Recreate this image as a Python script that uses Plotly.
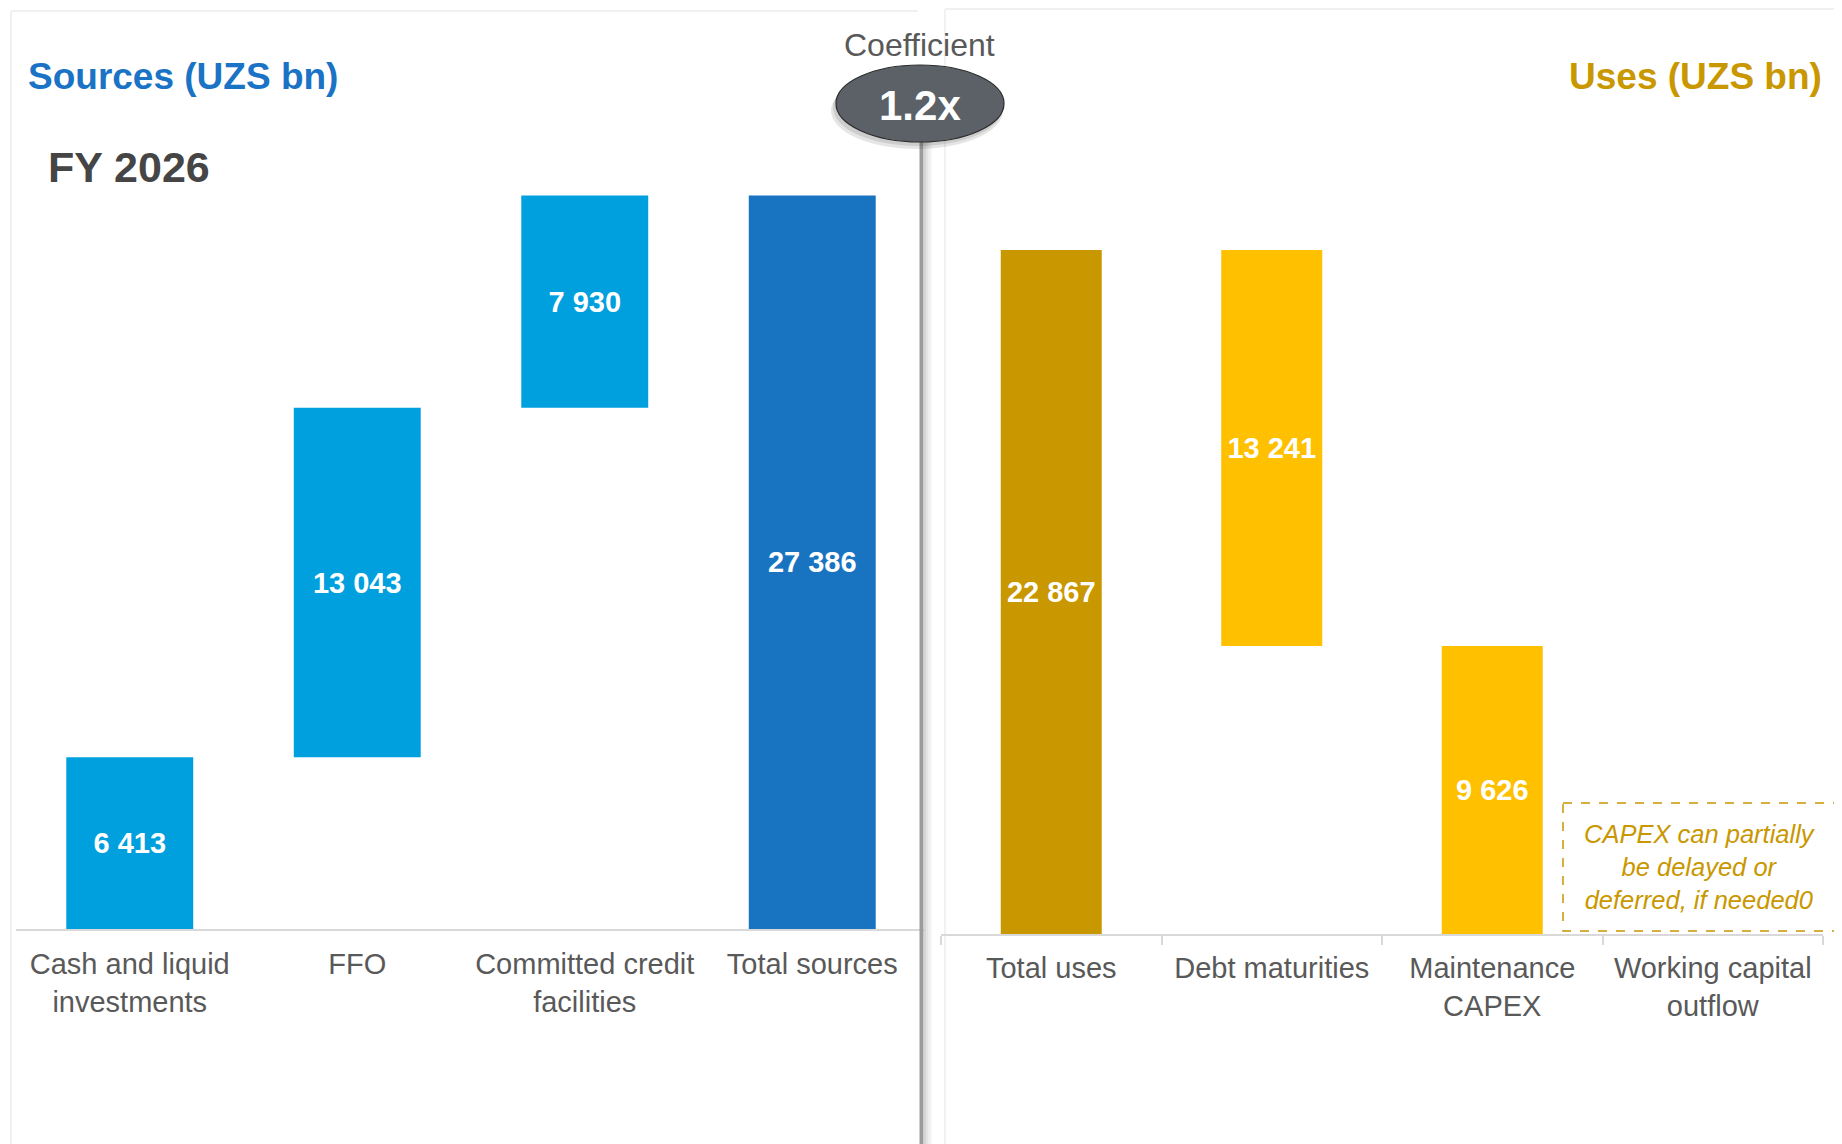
import plotly.graph_objects as go

# page body has an 8px margin; figure fills the rest of the 1842x1144 window
OFF = 8
W, H = 1842 - OFF, 1144 - OFF

# ---------------- data ----------------
src_cats = ["Cash and liquid<br>investments", "FFO", "Committed credit<br>facilities", "Total sources"]
src_vals = [6413, 13043, 7930, 27386]
src_is_total = [False, False, False, True]

use_cats = ["Total uses", "Debt maturities", "Maintenance<br>CAPEX", "Working capital<br>outflow"]
use_vals = [22867, 13241, 9626, 0]
use_is_total = [True, False, False, False]

src_title = "Sources (UZS bn)"
use_title = "Uses (UZS bn)"
period_label = "FY 2026"
coef_title = "Coefficient"
note_text = "CAPEX can partially<br>be delayed or<br>deferred, if needed0"

# ---------------- colours ----------------
C_SRC = "#00a0df"
C_SRC_TOT = "#1874c1"
C_USE = "#ffc000"
C_USE_TOT = "#c99700"
C_TXT = "#595959"
C_AXIS = "#d9d9d9"


def px(x):
    return (x - OFF) / W


def py(y):
    return 1 - (y - OFF) / H


def fmt(v):
    return f"{v:,}".replace(",", " ") if v else ""


# waterfall bases
src_base, run = [], 0
for v, t in zip(src_vals, src_is_total):
    if t:
        src_base.append(0)
    else:
        src_base.append(run)
        run += v

use_base, run = [], 0
for v, t in zip(use_vals, use_is_total):
    if t:
        use_base.append(0)
        run = v
    else:
        run -= v
        use_base.append(run)

coef = src_vals[-1] / use_vals[0]

fig = go.Figure()

fig.add_trace(go.Bar(
    x=src_cats, y=src_vals, base=src_base,
    marker=dict(color=[C_SRC_TOT if t else C_SRC for t in src_is_total], line=dict(width=0)),
    width=0.558,
    text=[fmt(v) for v in src_vals], texttemplate="<b>%{text}</b>",
    textposition="inside", insidetextanchor="middle", textangle=0,
    constraintext="none",
    textfont=dict(family="Liberation Sans, Arial", size=29, color="white"),
    xaxis="x", yaxis="y", showlegend=False, hoverinfo="skip",
))

fig.add_trace(go.Bar(
    x=use_cats, y=use_vals, base=use_base,
    marker=dict(color=[C_USE_TOT if t else C_USE for t in use_is_total], line=dict(width=0)),
    width=0.458,
    text=[fmt(v) for v in use_vals], texttemplate="<b>%{text}</b>",
    textposition="inside", insidetextanchor="middle", textangle=0,
    constraintext="none",
    textfont=dict(family="Liberation Sans, Arial", size=29, color="white"),
    xaxis="x2", yaxis="y2", showlegend=False, hoverinfo="skip",
))

tickfont = dict(family="Liberation Sans, Arial", size=29, color=C_TXT)

fig.update_layout(
    width=W, height=H,
    margin=dict(l=0, r=0, t=0, b=0),
    paper_bgcolor="white", plot_bgcolor="rgba(0,0,0,0)",
    showlegend=False,
    xaxis=dict(domain=[px(16), px(926)], anchor="y", type="category",
               showline=True, linecolor=C_AXIS, linewidth=2, showgrid=False,
               ticks="", ticklabelstandoff=8, tickfont=tickfont, fixedrange=True),
    yaxis=dict(domain=[py(929), py(179)], anchor="x", range=[0, 28000],
               visible=False, showgrid=False, fixedrange=True),
    xaxis2=dict(domain=[px(941), px(1823)], anchor="y2", type="category",
                showline=True, linecolor=C_AXIS, linewidth=2, showgrid=False,
                ticks="outside", tickson="boundaries", ticklen=9, tickcolor=C_AXIS,
                tickwidth=2, ticklabelstandoff=7,
                tickfont=tickfont, fixedrange=True),
    yaxis2=dict(domain=[py(934), py(216)], anchor="x2", range=[0, 24000],
                visible=False, showgrid=False, fixedrange=True),
)

shapes = []
# panel frames
shapes.append(dict(type="line", xref="paper", yref="paper", x0=px(11), x1=px(918), y0=py(11), y1=py(11),
                   line=dict(color="#f0f0f0", width=2), layer="below"))
shapes.append(dict(type="line", xref="paper", yref="paper", x0=px(11), x1=px(11), y0=py(11), y1=py(1144),
                   line=dict(color="#f0f0f0", width=2), layer="below"))
shapes.append(dict(type="line", xref="paper", yref="paper", x0=px(945), x1=px(1836), y0=py(9), y1=py(9),
                   line=dict(color="#f0f0f0", width=2), layer="below"))
shapes.append(dict(type="line", xref="paper", yref="paper", x0=px(945), x1=px(945), y0=py(9), y1=py(1144),
                   line=dict(color="#f2f2f2", width=2), layer="below"))
# right edge shadow
for i, c in enumerate(["#bdbdbd", "#cfcfcf", "#e0e0e0"]):
    shapes.append(dict(type="line", xref="paper", yref="paper", x0=px(1837 + i * 1.5), x1=px(1837 + i * 1.5),
                       y0=py(9), y1=py(1144), line=dict(color=c, width=2)))
# central divider with shadow
for i, c in enumerate(["#d6d6d6", "#e4e4e4", "#eeeeee", "#f6f6f6"]):
    shapes.append(dict(type="line", xref="paper", yref="paper", x0=px(925 + i * 2), x1=px(925 + i * 2),
                       y0=py(142), y1=py(1144), line=dict(color=c, width=2)))
shapes.append(dict(type="line", xref="paper", yref="paper", x0=px(921.5), x1=px(921.5),
                   y0=py(142), y1=py(1144), line=dict(color="#9c9c9c", width=4)))
# ellipse shadow + ellipse
shapes.append(dict(type="circle", xref="paper", yref="paper", x0=px(831), x1=px(1003), y0=py(72), y1=py(149),
                   fillcolor="rgba(0,0,0,0.10)", line=dict(width=0)))
shapes.append(dict(type="circle", xref="paper", yref="paper", x0=px(833), x1=px(1003), y0=py(69), y1=py(146),
                   fillcolor="rgba(0,0,0,0.10)", line=dict(width=0)))
shapes.append(dict(type="circle", xref="paper", yref="paper", x0=px(836), x1=px(1004), y0=py(65), y1=py(142),
                   fillcolor="#5b6167", line=dict(color="#2b2b2b", width=1.2)))
# dashed note box
shapes.append(dict(type="rect", xref="paper", yref="paper", x0=px(1563), x1=px(1836), y0=py(803), y1=py(931),
                   line=dict(color=C_USE_TOT, width=1.5, dash="dash"), fillcolor="rgba(0,0,0,0)"))

annotations = [
    dict(text=f"<b>{src_title}</b>", x=px(26), y=py(77), xanchor="left", yanchor="middle",
         font=dict(family="Liberation Sans, Arial", size=37, color="#1a73c4")),
    dict(text=f"<b>{use_title}</b>", x=px(1824), y=py(77), xanchor="right", yanchor="middle",
         font=dict(family="Liberation Sans, Arial", size=37, color=C_USE_TOT)),
    dict(text=f"<b>{period_label}</b>", x=px(46), y=py(167), xanchor="left", yanchor="middle",
         font=dict(family="Liberation Sans, Arial", size=43, color="#454545")),
    dict(text=coef_title, x=px(919), y=py(45), xanchor="center", yanchor="middle",
         font=dict(family="Liberation Sans, Arial", size=32, color=C_TXT)),
    dict(text=f"<b>{coef:.1f}x</b>", x=px(920), y=py(105), xanchor="center", yanchor="middle",
         font=dict(family="Liberation Sans, Arial", size=42, color="white")),
    dict(text=f"<i>{note_text}</i>", x=px(1699.5), y=py(867), xanchor="center", yanchor="middle",
         align="center",
         font=dict(family="Liberation Sans, Arial", size=25.5, color=C_USE_TOT)),
]
for a in annotations:
    a.update(xref="paper", yref="paper", showarrow=False)

fig.update_layout(shapes=shapes, annotations=annotations)

fig.write_html("out.html")
